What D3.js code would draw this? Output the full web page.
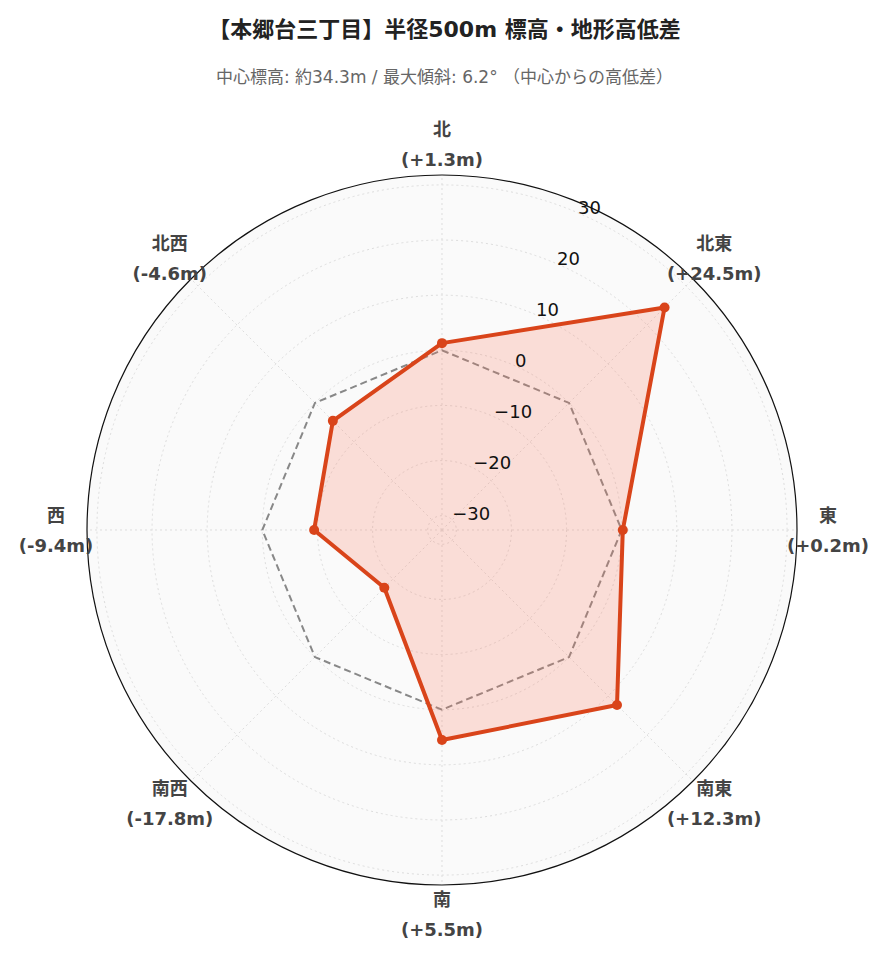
<!DOCTYPE html>
<html><head><meta charset="utf-8">
<script src="https://cdn.jsdelivr.net/npm/d3@7"></script>
<style>body{margin:0;background:#fff;font-family:"DejaVu Sans","Noto Sans CJK JP",sans-serif;}</style>
</head><body><div id="chart"></div>
<script>
const directions = ["北","北東","東","南東","南","南西","西","北西"];
const diffs = [1.3, 24.5, 0.2, 12.3, 5.5, -17.8, -9.4, -4.6];
const baseline = [0, 0, 0, 0, 0, 0, 0, 0];
const radialTicks = [-30, -20, -10, 0, 10, 20, 30];
const titleText = "【本郷台三丁目】半径500m 標高・地形高低差";
const subText = "中心標高: 約34.3m / 最大傾斜: 6.2° （中心からの高低差）";

const W = 889, H = 962, cx = 442, cy = 530, R = 355;
const svg = d3.select("#chart").append("svg").attr("width", W).attr("height", H);
const r = d3.scaleLinear().domain([-32.6, 31.8]).range([0, R]);
const ang = i => i * Math.PI / 4;
const pt = (v, i) => [cx + r(v) * Math.sin(ang(i)), cy - r(v) * Math.cos(ang(i))];

svg.append("text").attr("x", W/2).attr("y", 37).attr("text-anchor","middle")
  .attr("font-size", 22).attr("font-weight","bold").attr("fill","#222").text(titleText);
svg.append("text").attr("x", W/2).attr("y", 83).attr("text-anchor","middle")
  .attr("font-size", 17).attr("fill","#666").text(subText);

svg.append("circle").attr("cx",cx).attr("cy",cy).attr("r",R).attr("fill","#fafafa");
const g = svg.append("g");
radialTicks.forEach(t => g.append("circle").attr("cx",cx).attr("cy",cy).attr("r",r(t))
  .attr("fill","none").attr("stroke","#ddd").attr("stroke-dasharray","2,3"));
directions.forEach((d,i) => {
  const [x,y] = pt(31.8, i);
  g.append("line").attr("x1",cx).attr("y1",cy).attr("x2",x).attr("y2",y)
    .attr("stroke","#ddd").attr("stroke-dasharray","2,3");
});
svg.append("circle").attr("cx",cx).attr("cy",cy).attr("r",R).attr("fill","none").attr("stroke","#111").attr("stroke-width",1.2);

const line = d3.line().curve(d3.curveLinearClosed);
svg.append("path").attr("d", line(baseline.map(pt))).attr("fill","none")
  .attr("stroke","#888").attr("stroke-width",2).attr("stroke-dasharray","7,4");
svg.append("path").attr("d", line(diffs.map(pt))).attr("fill","rgba(250,120,90,0.22)")
  .attr("stroke","#d9441a").attr("stroke-width",4).attr("stroke-linejoin","round");
svg.selectAll(".pt").data(diffs).join("circle").attr("class","pt")
  .attr("cx",(d,i)=>pt(d,i)[0]).attr("cy",(d,i)=>pt(d,i)[1]).attr("r",5).attr("fill","#d9441a");

const ta = 0.39;
radialTicks.forEach(t => {
  const rr = r(t) + 2;
  svg.append("text").attr("x", cx + rr*Math.sin(ta) + 4).attr("y", cy - rr*Math.cos(ta))
    .attr("font-size",18).attr("fill","#111").attr("dominant-baseline","middle")
    .text(t < 0 ? "\u2212" + Math.abs(t) : t);
});

directions.forEach((d,i) => {
  const a = ang(i);
  const lr = (i % 2 === 1) ? R + 30 : R + 31;
  let x = cx + lr*Math.sin(a), y = cy - lr*Math.cos(a);
  if (i === 0) y = cy - R - 39;
  if (i === 4) y = cy + R + 21;
  if (i === 2 || i === 6) y = cy - 8;
  if (i === 1 || i === 7) y = cy - 0.707*(R+22) - 13;
  if (i === 3 || i === 5) y = cy + 0.707*(R+22) - 2;
  const v = diffs[i];
  const txt = svg.append("text").attr("x",x).attr("y",y).attr("text-anchor","middle")
    .attr("font-size",18).attr("font-weight","bold").attr("fill","#444");
  txt.append("tspan").attr("x",x).attr("dy",0).text(d);
  txt.append("tspan").attr("x",x).attr("dy",30).text("(" + (v>=0?"+":"") + v.toFixed(1) + "m)");
});
</script></body></html>
